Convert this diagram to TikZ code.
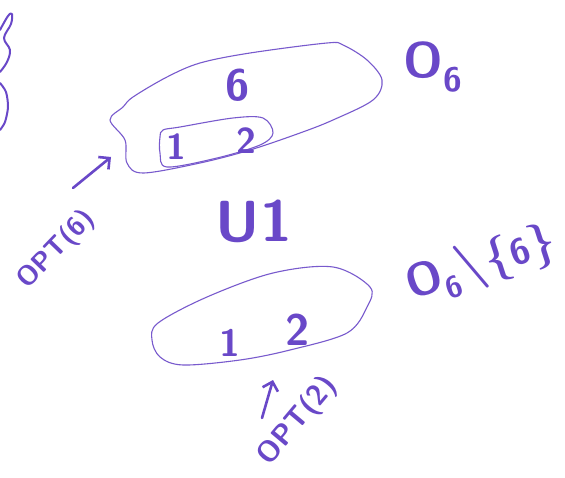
\documentclass[tikz,border=0pt]{standalone}
\usepackage{fontspec}
\usetikzlibrary{arrows.meta}
\definecolor{ink}{RGB}{105,72,200}
\newcommand{\fsz}[1]{\fontsize{#1}{#1}\selectfont}
\begin{document}
\begin{tikzpicture}[x=1pt,y=-1pt,
  outline/.style={draw=ink!90,line width=1.1pt,line join=round},
  hand/.style={text=ink,inner sep=0pt,font=\sffamily\bfseries},
  pen/.style={draw=ink,line width=2.6pt,line cap=round,line join=round},
  penarrow/.style={pen,-{Straight Barb[length=8pt,width=16pt]}}]
\fill[white] (0,0) rectangle (565,478);
\useasboundingbox (0,0) rectangle (565,478);

% fragment at the left edge
\draw[pen,line width=2pt] plot[smooth,tension=0.6] coordinates {(0,30) (8,16) (12,14) (11,24) (4,38) (10,50) (7,62) (0,72)};
\draw[pen,line width=2pt] plot[smooth] coordinates {(0,83) (6,92) (8,107) (5,122) (0,130)};

% top set O_6
\draw[outline] plot[smooth cycle,tension=0.55] coordinates {(110,120) (123,107) (133,97) (167,77) (200,63) (250,53) (327,43) (343,45) (367,60) (382,80) (373,100) (333,120) (300,133) (250,150) (200,163) (143,173) (127,163) (125,140)};
\draw[outline] plot[smooth cycle,tension=0.55] coordinates {(163,130) (180,127) (233,118) (263,118) (273,133) (260,145) (217,158) (167,167) (160,153) (160,137)};
\node[hand] (six) at (238,85) {\fsz{44}6};
\node[hand] (oneA) at (176,147) {\fsz{36}1};
\node[hand] (twoA) at (246,141) {\fsz{36}2};
\node[hand] (osix) at (433,67) {\fsz{50}O\raisebox{-14pt}{\fsz{34}6}};

% union sign
\node[hand] (union) at (254,221) {\fsz{58}U1};

% bottom set
\draw[outline] plot[smooth cycle,tension=0.55] coordinates {(152,340) (158,323) (207,297) (273,273) (333,267) (370,287) (367,307) (347,333) (290,350) (240,360) (183,365) (160,357)};
\node[hand] (oneB) at (230,343) {\fsz{38}1};
\node[hand] (twoB) at (298,330) {\fsz{44}2};
\node[hand,rotate=18] (minus) at (481,264) {\fsz{46}O\raisebox{-12pt}{\fsz{30}6}{\fsz{50}\textbackslash}\{{\fsz{36}6}\}};

% OPT labels and arrows
\node[hand,rotate=46] (opt6) at (57,250) {\fsz{27}OPT(6)};
\coordinate (a6s) at (73,188);
\coordinate (a6t) at (111,157);
\draw[penarrow] (a6s) -- (a6t);

\node[hand,rotate=50] (opt2) at (298,421) {\fsz{29}OPT(2)};
\coordinate (a2s) at (262,418);
\coordinate (a2t) at (273,380);
\draw[penarrow] (a2s) -- (a2t);
\end{tikzpicture}
\end{document}
